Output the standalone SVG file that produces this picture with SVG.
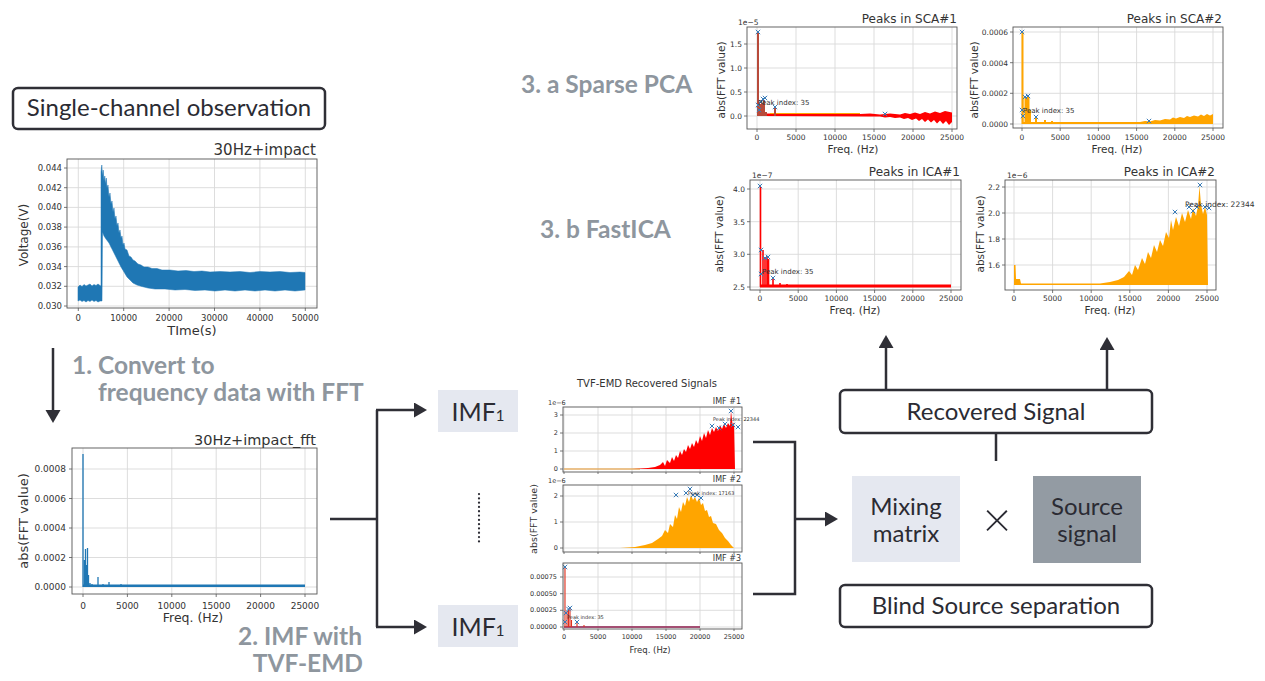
<svg xmlns="http://www.w3.org/2000/svg" xmlns:xlink="http://www.w3.org/1999/xlink" width="1265" height="681" viewBox="0 0 1265 681">
<style>
.box{fill:#fff;stroke:#2f2f36;stroke-width:2.5}
.lt{font-family:Lato,"Noto Sans",sans-serif;fill:#2b2b33}
.step{font-family:Lato,"Noto Sans",sans-serif;font-weight:700;fill:#8e969e;font-size:24.5px}
.con{fill:none;stroke:#2f2f36;stroke-width:2.5}
.fr{fill:none;stroke:#555;stroke-width:0.9}
.gr{fill:none;stroke:#d9d9d9;stroke-width:0.9}
.tk{fill:none;stroke:#555;stroke-width:0.8}
.mp{font-family:"DejaVu Sans",sans-serif;fill:#333}
.blue{fill:#1f77b4;stroke:#1f77b4;stroke-width:0.5}
.red{fill:#ff0000}
.org{fill:#ffa500}
</style>
<defs>
<marker id="ah" markerUnits="userSpaceOnUse" markerWidth="14" markerHeight="16" refX="5" refY="7.5" orient="auto">
<path d="M0,0 L13,7.5 L0,15 Z" fill="#2f2f36"/>
</marker>
<path id="xm" d="M-2.2,-2.2L2.2,2.2M-2.2,2.2L2.2,-2.2" stroke="#3a7cb8" stroke-width="1" fill="none"/>
</defs>
<rect width="1265" height="681" fill="#fff"/>

<!-- connectors -->
<g id="connectors">
<path class="con" d="M53,348V415" marker-end="url(#ah)"/>
<path class="con" d="M330,519H377"/>
<path class="con" d="M377,410V627"/>
<path class="con" d="M376,410H419" marker-end="url(#ah)"/>
<path class="con" d="M376,627H419" marker-end="url(#ah)"/>
<path class="con" d="M753,442H795V594H753"/>
<path class="con" d="M795,519H830" marker-end="url(#ah)"/>
<path class="con" d="M996,433V461"/>
<path class="con" d="M886,390V343" marker-end="url(#ah)"/>
<path class="con" d="M1107,390V345" marker-end="url(#ah)"/>
</g>

<!-- nodes -->
<g id="single-channel">
<rect class="box" x="13" y="88" width="312" height="41" rx="5"/>
<text class="lt" x="169" y="116" font-size="24" text-anchor="middle">Single-channel observation</text>
</g>

<g id="plot-time">
<path class="gr" d="M78.3,159V308M123.7,159V308M169.1,159V308M214.5,159V308M259.9,159V308M305.3,159V308M67,168H317M67,187.7H317M67,207.4H317M67,227.1H317M67,246.9H317M67,266.6H317M67,286.3H317M67,306H317"/>
<polygon class="blue" points="78,287 80,285 82,286.5 84,284.5 86,286 88,285 90,284 92,286 94,284.5 96,285.5 98,284 100,285.5 101,286 101,172 101.8,165 102.5,176 103.2,170 104,181 104.8,176 105.5,184 106.3,178 107,188 108,185 109,197 110,193 111,204 112,201 113,212 114,208 115,219 116,216 117,226 118,223 119,233 120,230 121,238 122,236 123,245 124,243 125,249 127,250 129,256 131,257 133,260 135,261 138,264 141,265 144,267 148,267 152,268.5 157,268.5 162,270 170,270 178,271 186,270.5 194,271.5 202,271 210,272 220,271.5 230,272 240,271.5 250,272.5 260,271.5 270,272 280,271.5 290,272.5 300,272 305,272.5 305,290 295,291 285,290 275,291 265,290 255,291 245,290 235,291 225,290 215,291 205,290 195,290.5 185,289.5 175,290 165,289 155,289 148,288 142,286.5 137,285 133,283 130,280 127,277 124,272 121,267 118,261 115,255 112,249 109,243 106,239 104,236 102.5,232 102,301 100,301 98,302 96,300.5 94,301.5 92,300 90,301.5 88,300.5 86,302 84,300.5 82,301.5 80,300 78,301"/>
<rect class="fr" x="67" y="159" width="250" height="149"/>
<path class="tk" d="M78.3,308v3M123.7,308v3M169.1,308v3M214.5,308v3M259.9,308v3M305.3,308v3M64,168h3M64,187.7h3M64,207.4h3M64,227.1h3M64,246.9h3M64,266.6h3M64,286.3h3M64,306h3"/>
<g class="mp" font-size="8.5" text-anchor="middle">
<text x="78.3" y="321">0</text><text x="123.7" y="321">10000</text><text x="169.1" y="321">20000</text><text x="214.5" y="321">30000</text><text x="259.9" y="321">40000</text><text x="305.3" y="321">50000</text>
</g>
<g class="mp" font-size="8.5" text-anchor="end">
<text x="62" y="171">0.044</text><text x="62" y="190.7">0.042</text><text x="62" y="210.4">0.040</text><text x="62" y="230.1">0.038</text><text x="62" y="249.9">0.036</text><text x="62" y="269.6">0.034</text><text x="62" y="289.3">0.032</text><text x="62" y="309">0.030</text>
</g>
<text class="mp" x="316" y="155" font-size="15" text-anchor="end" fill="#222">30Hz+impact</text>
<text class="mp" x="192" y="335" font-size="13" text-anchor="middle" fill="#222">TIme(s)</text>
<text class="mp" transform="translate(28,235) rotate(-90)" font-size="12" text-anchor="middle" fill="#222">Voltage(V)</text>
</g>

<g id="step1">
<text class="step" x="72" y="374">1. Convert to</text>
<text class="step" x="98" y="401">frequency data with FFT</text>
</g>

<g id="plot-fft">
<path class="gr" d="M83,448V594M127.4,448V594M171.8,448V594M216.2,448V594M260.6,448V594M305,448V594M72,469H317M72,498.5H317M72,528H317M72,557.5H317M72,587H317"/>
<rect x="83" y="584.5" width="222" height="2.5" fill="#1f77b4"/>
<path d="M83,587V454M84.5,587V560M85.5,587V549M86.5,587V565M87.5,587V548M88.5,587V575M90,587V583M92,587V584M95,587V585M98,587V577M103,587V584M109,587V582M115,587V585M121,587V584" stroke="#1f77b4" stroke-width="1.3" fill="none"/>
<rect class="fr" x="72" y="448" width="245" height="146"/>
<path class="tk" d="M83,594v3M127.4,594v3M171.8,594v3M216.2,594v3M260.6,594v3M305,594v3M69,469h3M69,498.5h3M69,528h3M69,557.5h3M69,587h3"/>
<g class="mp" font-size="9" text-anchor="middle">
<text x="83" y="609">0</text><text x="127.4" y="609">5000</text><text x="171.8" y="609">10000</text><text x="216.2" y="609">15000</text><text x="260.6" y="609">20000</text><text x="305" y="609">25000</text>
</g>
<g class="mp" font-size="9" text-anchor="end">
<text x="66" y="472">0.0008</text><text x="66" y="501.5">0.0006</text><text x="66" y="531">0.0004</text><text x="66" y="560.5">0.0002</text><text x="66" y="590">0.0000</text>
</g>
<text class="mp" x="316" y="445" font-size="14.5" text-anchor="end" fill="#222">30Hz+impact_fft</text>
<text class="mp" x="193" y="622" font-size="12.5" text-anchor="middle" fill="#222">Freq. (Hz)</text>
<text class="mp" transform="translate(28,521) rotate(-90)" font-size="13" text-anchor="middle" fill="#222">abs(FFT value)</text>
</g>

<g id="step2">
<text class="step" x="362" y="645" text-anchor="end">2. IMF with</text>
<text class="step" x="363" y="672" text-anchor="end">TVF-EMD</text>
</g>

<g id="imf-top">
<rect x="438" y="390" width="80" height="42" fill="#e5e8f0"/>
<text class="lt" x="478" y="421" font-size="25" text-anchor="middle">IMF<tspan font-size="15">1</tspan></text>
</g>
<g id="imf-dots">
<path d="M479,494V543" stroke="#2b2b33" stroke-width="2.2" stroke-dasharray="0.1 4.2" stroke-linecap="round" fill="none"/>
</g>
<g id="imf-bottom">
<rect x="438" y="605" width="80" height="42" fill="#e5e8f0"/>
<text class="lt" x="478" y="636" font-size="25" text-anchor="middle">IMF<tspan font-size="15">1</tspan></text>
</g>

<g id="plot-tvf-emd">
<text class="mp" x="647" y="387" font-size="10" text-anchor="middle" fill="#222">TVF-EMD Recovered Signals</text>
<!-- sub 1 -->
<path class="gr" d="M564,407V472M598,407V472M632,407V472M666,407V472M700,407V472M734,407V472M563,415H742M563,433H742M563,451H742M563,469H742"/>
<polygon class="red" points="564,469 632,469 640,468.5 648,468 655,467 660,465 663,462 665,466 667,460 670,463 672,457 674,461 676,455 678,458 680,451 682,455 684,449 686,452 688,445 690,449 692,443 694,447 696,440 698,444 700,436 702,441 704,433 706,438 708,430 710,435 712,428 714,432 716,427 718,431 720,425 722,429 724,424 726,428 728,423 730,426 731,411 732.5,424 734,423 735,469"/>
<path d="M564,469H640" stroke="#e8952a" stroke-width="1.2"/>
<use xlink:href="#xm" x="731" y="411"/><use xlink:href="#xm" x="712" y="426"/><use xlink:href="#xm" x="719" y="428"/><use xlink:href="#xm" x="725" y="424"/><use xlink:href="#xm" x="733" y="425"/><use xlink:href="#xm" x="738" y="427"/>
<text class="mp" x="713" y="421" font-size="5">Peak index: 22344</text>
<rect class="fr" x="563" y="407" width="179" height="65"/>
<path class="tk" d="M560,415h3M560,433h3M560,451h3M560,469h3M564,472v2M598,472v2M632,472v2M666,472v2M700,472v2M734,472v2"/>
<g class="mp" font-size="6.5" text-anchor="end"><text x="558" y="417">3</text><text x="558" y="435">2</text><text x="558" y="453">1</text><text x="558" y="471">0</text></g>
<text class="mp" x="548" y="405" font-size="6.5">1e−6</text>
<text class="mp" x="741" y="404" font-size="8" text-anchor="end">IMF #1</text>
<!-- sub 2 -->
<path class="gr" d="M564,485V552M598,485V552M632,485V552M666,485V552M700,485V552M734,485V552M563,496H742M563,522H742M563,548H742"/>
<polygon class="org" points="564,548 620,548 635,547 645,545 652,543 658,539 662,536 665,530 668,533 670,524 673,527 675,515 677,519 679,507 681,512 683,502 685,506 687,497 689,502 691,495 693,500 695,497 697,502 699,498 701,505 703,503 705,511 707,510 709,517 711,516 713,523 716,524 719,530 722,533 725,538 728,541 731,545 734,548"/>
<use xlink:href="#xm" x="676" y="495"/><use xlink:href="#xm" x="686" y="493"/><use xlink:href="#xm" x="690" y="489"/><use xlink:href="#xm" x="693" y="495"/><use xlink:href="#xm" x="697" y="495"/><use xlink:href="#xm" x="701" y="498"/>
<text class="mp" x="688" y="495" font-size="5">Peak index: 17163</text>
<rect class="fr" x="563" y="485" width="179" height="67"/>
<path class="tk" d="M560,496h3M560,522h3M560,548h3M564,552v2M598,552v2M632,552v2M666,552v2M700,552v2M734,552v2"/>
<g class="mp" font-size="6.5" text-anchor="end"><text x="558" y="498">2</text><text x="558" y="524">1</text><text x="558" y="550">0</text></g>
<text class="mp" x="548" y="483" font-size="6.5">1e−6</text>
<text class="mp" x="741" y="482" font-size="8" text-anchor="end">IMF #2</text>
<!-- sub 3 -->
<path class="gr" d="M564,563V629M598,563V629M632,563V629M666,563V629M700,563V629M734,563V629M563,577H742M563,593.7H742M563,610.3H742M563,627H742"/>
<path d="M564,627H700" stroke="#8b1a4a" stroke-width="1.3"/>
<path d="M565,627V567M567,627V611M568.5,627V609M570,627V608M571.5,627V620M577,627V622M584,627V625" stroke="#e0301e" stroke-width="1.1" fill="none"/>
<use xlink:href="#xm" x="565" y="567"/><use xlink:href="#xm" x="566" y="613"/><use xlink:href="#xm" x="568.5" y="609"/><use xlink:href="#xm" x="570" y="608"/><use xlink:href="#xm" x="577" y="622"/><use xlink:href="#xm" x="565" y="622"/>
<text class="mp" x="567" y="619" font-size="5">Peak index: 35</text>
<rect class="fr" x="563" y="563" width="179" height="66"/>
<path class="tk" d="M560,577h3M560,593.7h3M560,610.3h3M560,627h3M564,629v2M598,629v2M632,629v2M666,629v2M700,629v2M734,629v2"/>
<g class="mp" font-size="6.5" text-anchor="end"><text x="557" y="579">0.00075</text><text x="557" y="596">0.00050</text><text x="557" y="612">0.00025</text><text x="557" y="629">0.00000</text></g>
<text class="mp" x="741" y="561" font-size="8" text-anchor="end">IMF #3</text>
<g class="mp" font-size="6.5" text-anchor="middle"><text x="564" y="639">0</text><text x="598" y="639">5000</text><text x="632" y="639">10000</text><text x="666" y="639">15000</text><text x="700" y="639">20000</text><text x="734" y="639">25000</text></g>
<text class="mp" x="650" y="653" font-size="8.5" text-anchor="middle" fill="#222">Freq. (Hz)</text>
<text class="mp" transform="translate(537,519) rotate(-90)" font-size="9.5" text-anchor="middle" fill="#222">abs(FFT value)</text>
</g>

<g id="step3a"><text class="step" x="521" y="93">3. a Sparse PCA</text></g>
<g id="step3b"><text class="step" x="540" y="238">3. b FastICA</text></g>

<g id="plot-sca1">
<path class="gr" d="M757,27V129M796,27V129M835,27V129M874,27V129M913,27V129M952,27V129M747,44H957M747,68H957M747,92H957M747,116H957"/>
<polygon class="red" points="757,113.5 860,114 870,113.5 880,114.5 890,113.5 900,114.5 905,113 910,114 915,112.5 920,114 925,112 930,113.5 935,111.5 940,113 945,111 952,112.5 952,122 949,125 946,121 943,124 940,120.5 937,123.5 934,120 931,122.5 928,119.5 925,122 922,119 919,121 916,118.5 912,120 908,118 904,119 900,117.5 895,118 890,117 885,117.5 880,116.5 870,116.5 757,116"/>
<path d="M770,113.5H860" stroke="#ffa500" stroke-width="1"/>
<path d="M758,116V32M760,116V104M762,116V103M764,116V100M766,116V112M775,116V108" stroke="#b84a3a" stroke-width="2" fill="none"/>
<use xlink:href="#xm" x="758" y="32"/><use xlink:href="#xm" x="758" y="105"/><use xlink:href="#xm" x="761" y="102"/><use xlink:href="#xm" x="763" y="99"/><use xlink:href="#xm" x="765" y="98"/><use xlink:href="#xm" x="775" y="107"/><use xlink:href="#xm" x="885" y="114"/><use xlink:href="#xm" x="759" y="110"/>
<text class="mp" x="758" y="105" font-size="7">Peak index: 35</text>
<rect class="fr" x="747" y="27" width="210" height="102"/>
<path class="tk" d="M757,129v3M796,129v3M835,129v3M874,129v3M913,129v3M952,129v3M744,44h3M744,68h3M744,92h3M744,116h3"/>
<g class="mp" font-size="7.5" text-anchor="middle"><text x="757" y="140">0</text><text x="796" y="140">5000</text><text x="835" y="140">10000</text><text x="874" y="140">15000</text><text x="913" y="140">20000</text><text x="952" y="140">25000</text></g>
<g class="mp" font-size="7.5" text-anchor="end"><text x="742" y="47">1.5</text><text x="742" y="71">1.0</text><text x="742" y="95">0.5</text><text x="742" y="119">0.0</text></g>
<text class="mp" x="738" y="25" font-size="7.5">1e−5</text>
<text class="mp" x="957" y="23" font-size="12" text-anchor="end" fill="#222">Peaks in SCA#1</text>
<text class="mp" x="853" y="153" font-size="10.5" text-anchor="middle" fill="#222">Freq. (Hz)</text>
<text class="mp" transform="translate(725,80) rotate(-90)" font-size="10.5" text-anchor="middle" fill="#222">abs(FFT value)</text>
</g>

<g id="plot-sca2">
<path class="gr" d="M1022,27V128M1060.2,27V128M1098.4,27V128M1136.6,27V128M1174.8,27V128M1213,27V128M1013,32H1223M1013,62.7H1223M1013,93.3H1223M1013,124H1223"/>
<rect x="1022" y="97" width="8" height="27" fill="#ffa500" opacity="0.5"/>
<polygon class="org" points="1022,124 1022,122 1140,122 1145,121 1150,121.5 1155,120 1160,120.5 1165,119 1170,119.5 1173,117.5 1176,118.5 1180,117 1184,118 1187,116 1190,117 1194,115.5 1198,116.5 1201,114.5 1204,116 1207,114 1210,115.5 1213,114 1213,124"/>
<path d="M1022.5,124V32M1026,124V97M1028,124V96M1030,124V110M1036,124V117M1045,124V120M1052,124V121" stroke="#ffa500" stroke-width="2" fill="none"/>
<use xlink:href="#xm" x="1022" y="32"/><use xlink:href="#xm" x="1025" y="97"/><use xlink:href="#xm" x="1028" y="96"/><use xlink:href="#xm" x="1022" y="110"/><use xlink:href="#xm" x="1023" y="116"/><use xlink:href="#xm" x="1036" y="117"/><use xlink:href="#xm" x="1149" y="121"/>
<text class="mp" x="1023" y="113" font-size="7">Peak index: 35</text>
<rect class="fr" x="1013" y="27" width="210" height="101"/>
<path class="tk" d="M1022,128v3M1060.2,128v3M1098.4,128v3M1136.6,128v3M1174.8,128v3M1213,128v3M1010,32h3M1010,62.7h3M1010,93.3h3M1010,124h3"/>
<g class="mp" font-size="7.5" text-anchor="middle"><text x="1022" y="140">0</text><text x="1060.2" y="140">5000</text><text x="1098.4" y="140">10000</text><text x="1136.6" y="140">15000</text><text x="1174.8" y="140">20000</text><text x="1213" y="140">25000</text></g>
<g class="mp" font-size="7.5" text-anchor="end"><text x="1008" y="35">0.0006</text><text x="1008" y="65.7">0.0004</text><text x="1008" y="96.3">0.0002</text><text x="1008" y="127">0.0000</text></g>
<text class="mp" x="1222" y="23" font-size="12" text-anchor="end" fill="#222">Peaks in SCA#2</text>
<text class="mp" x="1117" y="153" font-size="10.5" text-anchor="middle" fill="#222">Freq. (Hz)</text>
<text class="mp" transform="translate(978,80) rotate(-90)" font-size="10.5" text-anchor="middle" fill="#222">abs(FFT value)</text>
</g>

<g id="plot-ica1">
<path class="gr" d="M760,180V290M798.2,180V290M836.4,180V290M874.6,180V290M912.8,180V290M951,180V290M750,189H961M750,221.7H961M750,254.3H961M750,287H961"/>
<rect x="760" y="284.5" width="191" height="3" fill="#ff0000"/>
<path d="M760.5,287V187M763,287V250M765,287V258M767,287V257M768.5,287V259M773,287V277M780,287V283M787,287V284" stroke="#ff0000" stroke-width="1.6" fill="none"/>
<use xlink:href="#xm" x="760" y="186"/><use xlink:href="#xm" x="761" y="250"/><use xlink:href="#xm" x="765" y="258"/><use xlink:href="#xm" x="768" y="257"/><use xlink:href="#xm" x="773" y="278"/><use xlink:href="#xm" x="761" y="274"/>
<text class="mp" x="762" y="274" font-size="7">Peak index: 35</text>
<rect class="fr" x="750" y="180" width="211" height="110"/>
<path class="tk" d="M760,290v3M798.2,290v3M836.4,290v3M874.6,290v3M912.8,290v3M951,290v3M747,189h3M747,221.7h3M747,254.3h3M747,287h3"/>
<g class="mp" font-size="7.5" text-anchor="middle"><text x="760" y="301">0</text><text x="798.2" y="301">5000</text><text x="836.4" y="301">10000</text><text x="874.6" y="301">15000</text><text x="912.8" y="301">20000</text><text x="951" y="301">25000</text></g>
<g class="mp" font-size="7.5" text-anchor="end"><text x="745" y="192">4.0</text><text x="745" y="224.7">3.5</text><text x="745" y="257.3">3.0</text><text x="745" y="290">2.5</text></g>
<text class="mp" x="752" y="178" font-size="7.5">1e−7</text>
<text class="mp" x="960" y="176" font-size="12" text-anchor="end" fill="#222">Peaks in ICA#1</text>
<text class="mp" x="855" y="314" font-size="10.5" text-anchor="middle" fill="#222">Freq. (Hz)</text>
<text class="mp" transform="translate(723,234) rotate(-90)" font-size="10.5" text-anchor="middle" fill="#222">abs(FFT value)</text>
</g>

<g id="plot-ica2">
<path class="gr" d="M1014,180V290M1052.6,180V290M1091.2,180V290M1129.8,180V290M1168.4,180V290M1207,180V290M1005,187H1216M1005,213H1216M1005,239H1216M1005,265H1216"/>
<polygon class="org" points="1014,285 1014,265 1015.5,265 1016,279 1020,279 1021,283.5 1100,283.5 1110,282 1118,280 1124,277 1129,271 1132,275 1135,265 1138,270 1142,258 1145,264 1148,252 1151,258 1154,245 1157,252 1160,240 1163,246 1166,232 1169,238 1171,220 1173,230 1176,217 1179,226 1182,213 1185,222 1188,210 1191,219 1193,208 1196,216 1198,206 1199.5,186 1201,205 1203,214 1205,207 1207,215 1208,285"/>
<use xlink:href="#xm" x="1175" y="212"/><use xlink:href="#xm" x="1189" y="207"/><use xlink:href="#xm" x="1193" y="211"/><use xlink:href="#xm" x="1197" y="207"/><use xlink:href="#xm" x="1200" y="185"/><use xlink:href="#xm" x="1205" y="207"/><use xlink:href="#xm" x="1209" y="208"/>
<text class="mp" x="1185" y="207" font-size="7.5">Peak index: 22344</text>
<rect class="fr" x="1005" y="180" width="211" height="110"/>
<path class="tk" d="M1014,290v3M1052.6,290v3M1091.2,290v3M1129.8,290v3M1168.4,290v3M1207,290v3M1002,187h3M1002,213h3M1002,239h3M1002,265h3"/>
<g class="mp" font-size="7.5" text-anchor="middle"><text x="1014" y="301">0</text><text x="1052.6" y="301">5000</text><text x="1091.2" y="301">10000</text><text x="1129.8" y="301">15000</text><text x="1168.4" y="301">20000</text><text x="1207" y="301">25000</text></g>
<g class="mp" font-size="7.5" text-anchor="end"><text x="1000" y="190">2.2</text><text x="1000" y="216">2.0</text><text x="1000" y="242">1.8</text><text x="1000" y="268">1.6</text></g>
<text class="mp" x="1007" y="178" font-size="7.5">1e−6</text>
<text class="mp" x="1215" y="176" font-size="12" text-anchor="end" fill="#222">Peaks in ICA#2</text>
<text class="mp" x="1110" y="314" font-size="10.5" text-anchor="middle" fill="#222">Freq. (Hz)</text>
<text class="mp" transform="translate(984,234) rotate(-90)" font-size="10.5" text-anchor="middle" fill="#222">abs(FFT value)</text>
</g>

<g id="recovered-signal">
<rect class="box" x="840" y="390" width="312" height="43" rx="5"/>
<text class="lt" x="996" y="420" font-size="24" text-anchor="middle">Recovered Signal</text>
</g>
<g id="mixing-matrix">
<rect x="852" y="476" width="108" height="86" fill="#e5e8f0"/>
<text class="lt" x="906" y="515" font-size="24" text-anchor="middle">Mixing</text>
<text class="lt" x="906" y="542" font-size="24" text-anchor="middle">matrix</text>
</g>
<g id="times">
<text class="lt" x="997" y="537" font-size="50" font-weight="300" text-anchor="middle">×</text>
</g>
<g id="source-signal">
<rect x="1033" y="476" width="108" height="87" fill="#939ba3"/>
<text class="lt" x="1087" y="515" font-size="24" text-anchor="middle">Source</text>
<text class="lt" x="1087" y="542" font-size="24" text-anchor="middle">signal</text>
</g>
<g id="blind-source-separation">
<rect class="box" x="840" y="585" width="312" height="42" rx="5"/>
<text class="lt" x="996" y="614" font-size="24" text-anchor="middle">Blind Source separation</text>
</g>
</svg>
